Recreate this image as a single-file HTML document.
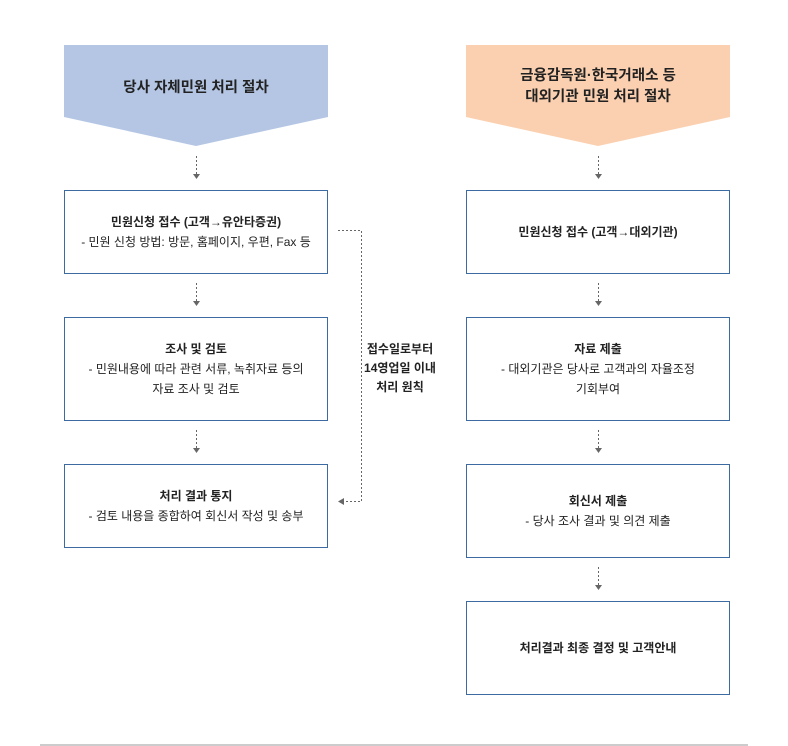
<!DOCTYPE html>
<html><head><meta charset="utf-8"><style>
body{margin:0;width:788px;height:746px;background:#fff;position:relative;overflow:hidden;font-family:"Liberation Sans","Noto Sans CJK KR",sans-serif;color:#222}
.b{position:absolute;border:1px solid #3d6aa0;box-sizing:border-box;display:flex;flex-direction:column;justify-content:center;align-items:center;text-align:center;font-size:12px;line-height:20px}
.b b{font-weight:bold}
.t{position:absolute;font-size:14.5px;font-weight:bold;text-align:center;line-height:21px}
</style></head><body>
<svg width="788" height="746" style="position:absolute;left:0;top:0">
<polygon points="64,45 328,45 328,117 196,146 64,117" fill="#b4c6e4"/>
<polygon points="466,45 730,45 730,117 598,146 466,117" fill="#fbd0b0"/>
<g stroke="#666" stroke-width="1" stroke-dasharray="2,2" fill="none">
<line x1="196.5" y1="156" x2="196.5" y2="174"/>
<line x1="196.5" y1="283" x2="196.5" y2="301"/>
<line x1="196.5" y1="430" x2="196.5" y2="448"/>
<line x1="598.5" y1="156" x2="598.5" y2="174"/>
<line x1="598.5" y1="283" x2="598.5" y2="301"/>
<line x1="598.5" y1="430" x2="598.5" y2="448"/>
<line x1="598.5" y1="567" x2="598.5" y2="585"/>
<polyline points="338,230.5 361.5,230.5 361.5,501.5 344,501.5"/>
</g>
<g fill="#666">
<polygon points="193,174 200,174 196.5,179"/>
<polygon points="193,301 200,301 196.5,306"/>
<polygon points="193,448 200,448 196.5,453"/>
<polygon points="595,174 602,174 598.5,179"/>
<polygon points="595,301 602,301 598.5,306"/>
<polygon points="595,448 602,448 598.5,453"/>
<polygon points="595,585 602,585 598.5,590"/>
<polygon points="344,498 344,505 338,501.5"/>
</g>
<line x1="40" y1="745" x2="748" y2="745" stroke="#ccc" stroke-width="2"/>
</svg>
<div class="t" style="left:64px;width:264px;top:78px">당사 자체민원 처리 절차</div>
<div class="t" style="left:466px;width:264px;top:66px">금융감독원·한국거래소 등<br>대외기관 민원 처리 절차</div>
<div class="b" style="left:64px;top:190px;width:264px;height:84px"><b>민원신청 접수 (고객→유안타증권)</b><span>- 민원 신청 방법: 방문, 홈페이지, 우편, Fax 등</span></div>
<div class="b" style="left:64px;top:317px;width:264px;height:104px"><b>조사 및 검토</b><span>- 민원내용에 따라 관련 서류, 녹취자료 등의<br>자료 조사 및 검토</span></div>
<div class="b" style="left:64px;top:464px;width:264px;height:84px"><b>처리 결과 통지</b><span>- 검토 내용을 종합하여 회신서 작성 및 송부</span></div>
<div class="b" style="left:466px;top:190px;width:264px;height:84px"><b>민원신청 접수 (고객→대외기관)</b></div>
<div class="b" style="left:466px;top:317px;width:264px;height:104px"><b>자료 제출</b><span>- 대외기관은 당사로 고객과의 자율조정<br>기회부여</span></div>
<div class="b" style="left:466px;top:464px;width:264px;height:94px"><b>회신서 제출</b><span>- 당사 조사 결과 및 의견 제출</span></div>
<div class="b" style="left:466px;top:601px;width:264px;height:94px"><b>처리결과 최종 결정 및 고객안내</b></div>
<div style="position:absolute;left:360px;width:80px;top:340px;text-align:center;font-size:12px;font-weight:bold;line-height:19px">접수일로부터<br>14영업일 이내<br>처리 원칙</div>
</body></html>
